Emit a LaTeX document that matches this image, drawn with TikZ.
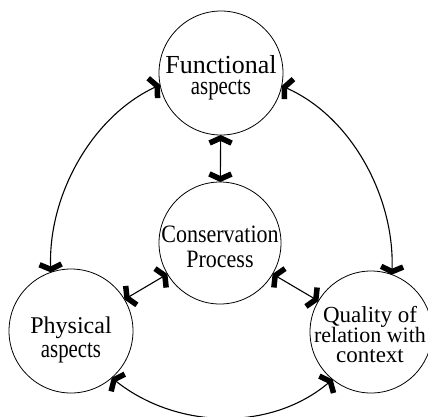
\documentclass[tikz,border=0pt]{standalone}
\usepackage{fontspec}
\setmainfont{Liberation Serif}
\usetikzlibrary{arrows.meta}
\lineskiplimit=-100pt
\newcommand{\cnd}[2]{\scalebox{#1}[1]{#2}}
\begin{document}
\begin{tikzpicture}[x=1pt,y=1pt,
  bub/.style={circle,draw,line width=0.8pt,minimum size=124pt,inner sep=0pt,outer sep=0pt},
  txt/.style={align=center,inner sep=0pt},
  link/.style={line width=1.1pt,{Straight Barb[length=5pt,width=22pt,line width=5.5pt]}-{Straight Barb[length=5pt,width=22pt,line width=5.5pt]}}]
\useasboundingbox (0,0) rectangle (428,-416);
\node[bub] (fun) at (221,-73) {};
\node[bub,minimum size=122pt] (cons) at (220,-243) {};
\node[bub] (phy) at (71,-331) {};
\node[bub,minimum size=122pt] (qual) at (371,-332) {};
\node[txt,font=\fontsize{26}{20.5}\selectfont] (funt) at ([yshift=-4.6pt]fun.center)
  {Functional\\\cnd{0.8}{aspects}};
\node[txt,font=\fontsize{25}{25}\selectfont] (const) at ([yshift=-4.2pt]cons.center)
  {\cnd{0.88}{Conservation}\\\cnd{0.88}{Process}};
\node[txt,font=\fontsize{24}{24}\selectfont] (phyt) at ([yshift=-8.6pt]phy.center)
  {Physical\\\fontsize{26}{24}\selectfont\cnd{0.8}{aspects}};
\node[txt,font=\fontsize{23}{20}\selectfont] (qualt) at ([yshift=-2.7pt,xshift=-1pt]qual.center)
  {Quality of\\\fontsize{22}{20}\selectfont relation with\\context};
\draw[link] (fun) -- (cons);
\draw[link] (cons) -- (phy);
\draw[link] (cons) -- (qual);
\draw[link] (fun.191) to[out=205,in=92,looseness=0.9] (phy.109);
\draw[link] (fun.348) to[out=-24,in=88,looseness=0.9] (qual.70);
\draw[link] (phy.311) to[out=321.6,in=220,looseness=0.95] (qual.231);
\end{tikzpicture}
\end{document}
